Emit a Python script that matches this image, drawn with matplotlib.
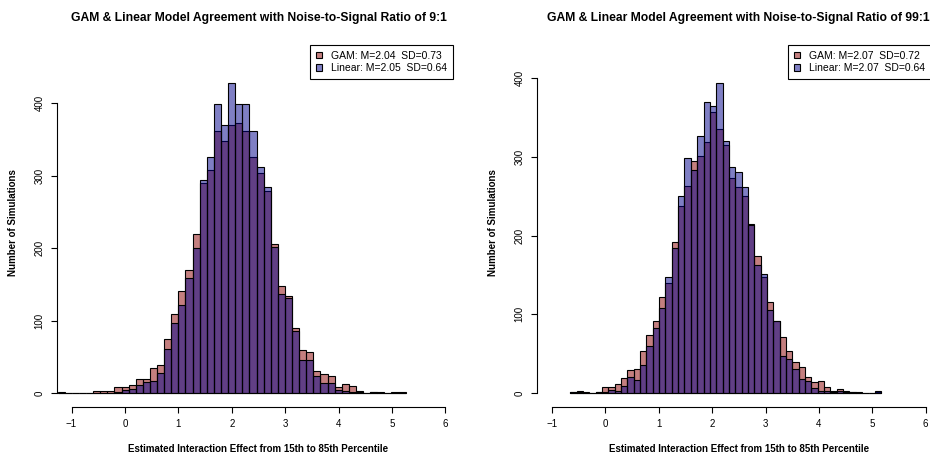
import numpy as np
import matplotlib.pyplot as plt
from matplotlib.patches import Patch

plt.rcParams['font.family'] = ['Liberation Sans', 'DejaVu Sans']

# histogram range of each panel (49 equal bins)
range_9 = (-1.261, 5.256)
range_99 = (-0.655, 5.166)

# counts per bin, noise-to-signal 9:1
gam_9 = [1, 0, 0, 0, 0, 3, 3, 3, 8, 8, 11, 20, 20, 34, 38, 74, 109, 141, 170, 219,
         290, 307, 361, 348, 369, 373, 361, 325, 304, 279, 206, 147, 134, 90, 60, 57,
         30, 26, 24, 8, 12, 10, 3, 0, 2, 1, 0, 1, 1]
lin_9 = [0, 0, 0, 0, 0, 0, 0, 0, 1, 4, 5, 11, 15, 16, 27, 61, 96, 121, 159, 200,
         294, 326, 399, 370, 428, 399, 399, 361, 312, 284, 202, 137, 131, 85, 45, 45,
         24, 14, 14, 4, 3, 2, 1, 0, 1, 0, 0, 0, 0]

# counts per bin, noise-to-signal 99:1
gam_99 = [1, 2, 1, 0, 1, 8, 8, 12, 19, 29, 30, 53, 74, 92, 122, 140, 192, 238, 263, 294,
          301, 319, 357, 335, 315, 273, 261, 250, 214, 174, 147, 115, 91, 71, 54, 39,
          33, 20, 14, 15, 8, 3, 5, 3, 1, 1, 0, 0, 1]
lin_99 = [1, 1, 0, 0, 1, 1, 4, 3, 9, 20, 16, 35, 60, 83, 108, 147, 184, 250, 298, 283,
          326, 369, 364, 394, 320, 287, 281, 262, 213, 162, 151, 106, 92, 47, 43, 31,
          18, 15, 7, 2, 2, 1, 2, 1, 1, 0, 0, 0, 2]

legend_9 = ['GAM: M=2.04  SD=0.73', 'Linear: M=2.05  SD=0.64']
legend_99 = ['GAM: M=2.07  SD=0.72', 'Linear: M=2.07  SD=0.64']

gam_col = (0.545, 0.0, 0.0, 0.5)
lin_col = (0.0, 0.0, 0.545, 0.5)

W, H = 930, 455


def draw_panel(ax, rng, gam, lin, ratio, labels, leg_right):
    edges = np.linspace(rng[0], rng[1], len(gam) + 1)
    width = edges[1] - edges[0]
    ax.bar(edges[:-1], gam, width=width, align='edge', color=gam_col,
           edgecolor='black', linewidth=0.8)
    ax.bar(edges[:-1], lin, width=width, align='edge', color=lin_col,
           edgecolor='black', linewidth=0.8)

    # R style limits: xlim -1..6, ylim 0..1.1*max, both padded 4%
    ymax = 1.1 * max(max(gam), max(lin))
    ax.set_xlim(-1 - 0.04 * 7, 6 + 0.04 * 7)
    ax.set_ylim(-0.04 * ymax, 1.04 * ymax)
    ax.set_xticks(range(-1, 7))
    ax.set_yticks(range(0, 401, 100))
    for s in ['top', 'right']:
        ax.spines[s].set_visible(False)
    ax.spines['bottom'].set_bounds(-1, 6)
    ax.spines['left'].set_bounds(0, 400)
    ax.spines['bottom'].set_linewidth(0.8)
    ax.spines['left'].set_linewidth(0.8)
    ax.tick_params(length=4.3, width=0.8, pad=4.5, labelsize=7)
    for lab in ax.get_yticklabels():
        lab.set_rotation(90)
        lab.set_va('center')

    ax.set_title('GAM & Linear Model Agreement with Noise-to-Signal Ratio of ' + ratio,
                 fontsize=8.7, fontweight='bold', pad=12)
    ax.set_xlabel('Estimated Interaction Effect from 15th to 85th Percentile',
                  fontsize=7, fontweight='bold', labelpad=11)
    ax.set_ylabel('Number of Simulations', fontsize=7, fontweight='bold', labelpad=12)

    handles = [Patch(facecolor=gam_col, edgecolor='black', linewidth=0.8),
               Patch(facecolor=lin_col, edgecolor='black', linewidth=0.8)]
    leg = ax.legend(handles, labels, loc='upper right',
                    bbox_to_anchor=(leg_right / W, 1 - 45 / H),
                    bbox_transform=fig.transFigure, fontsize=7.5,
                    fancybox=False, framealpha=1, edgecolor='black',
                    handlelength=0.6, handleheight=0.6, handletextpad=0.9,
                    labelspacing=0.25, borderpad=0.55, borderaxespad=0)
    leg.get_frame().set_linewidth(0.8)


fig = plt.figure(figsize=(W / 100, H / 100), dpi=100)
ax1 = fig.add_axes([56.6 / W, (H - 406.7) / H, 403.8 / W, 368.7 / H])
ax2 = fig.add_axes([536.9 / W, (H - 406.7) / H, 403.8 / W, 368.7 / H])

draw_panel(ax1, range_9, gam_9, lin_9, '9:1', legend_9, 453)
draw_panel(ax2, range_99, gam_99, lin_99, '99:1', legend_99, 931)

fig.savefig('out.png', dpi=100)
